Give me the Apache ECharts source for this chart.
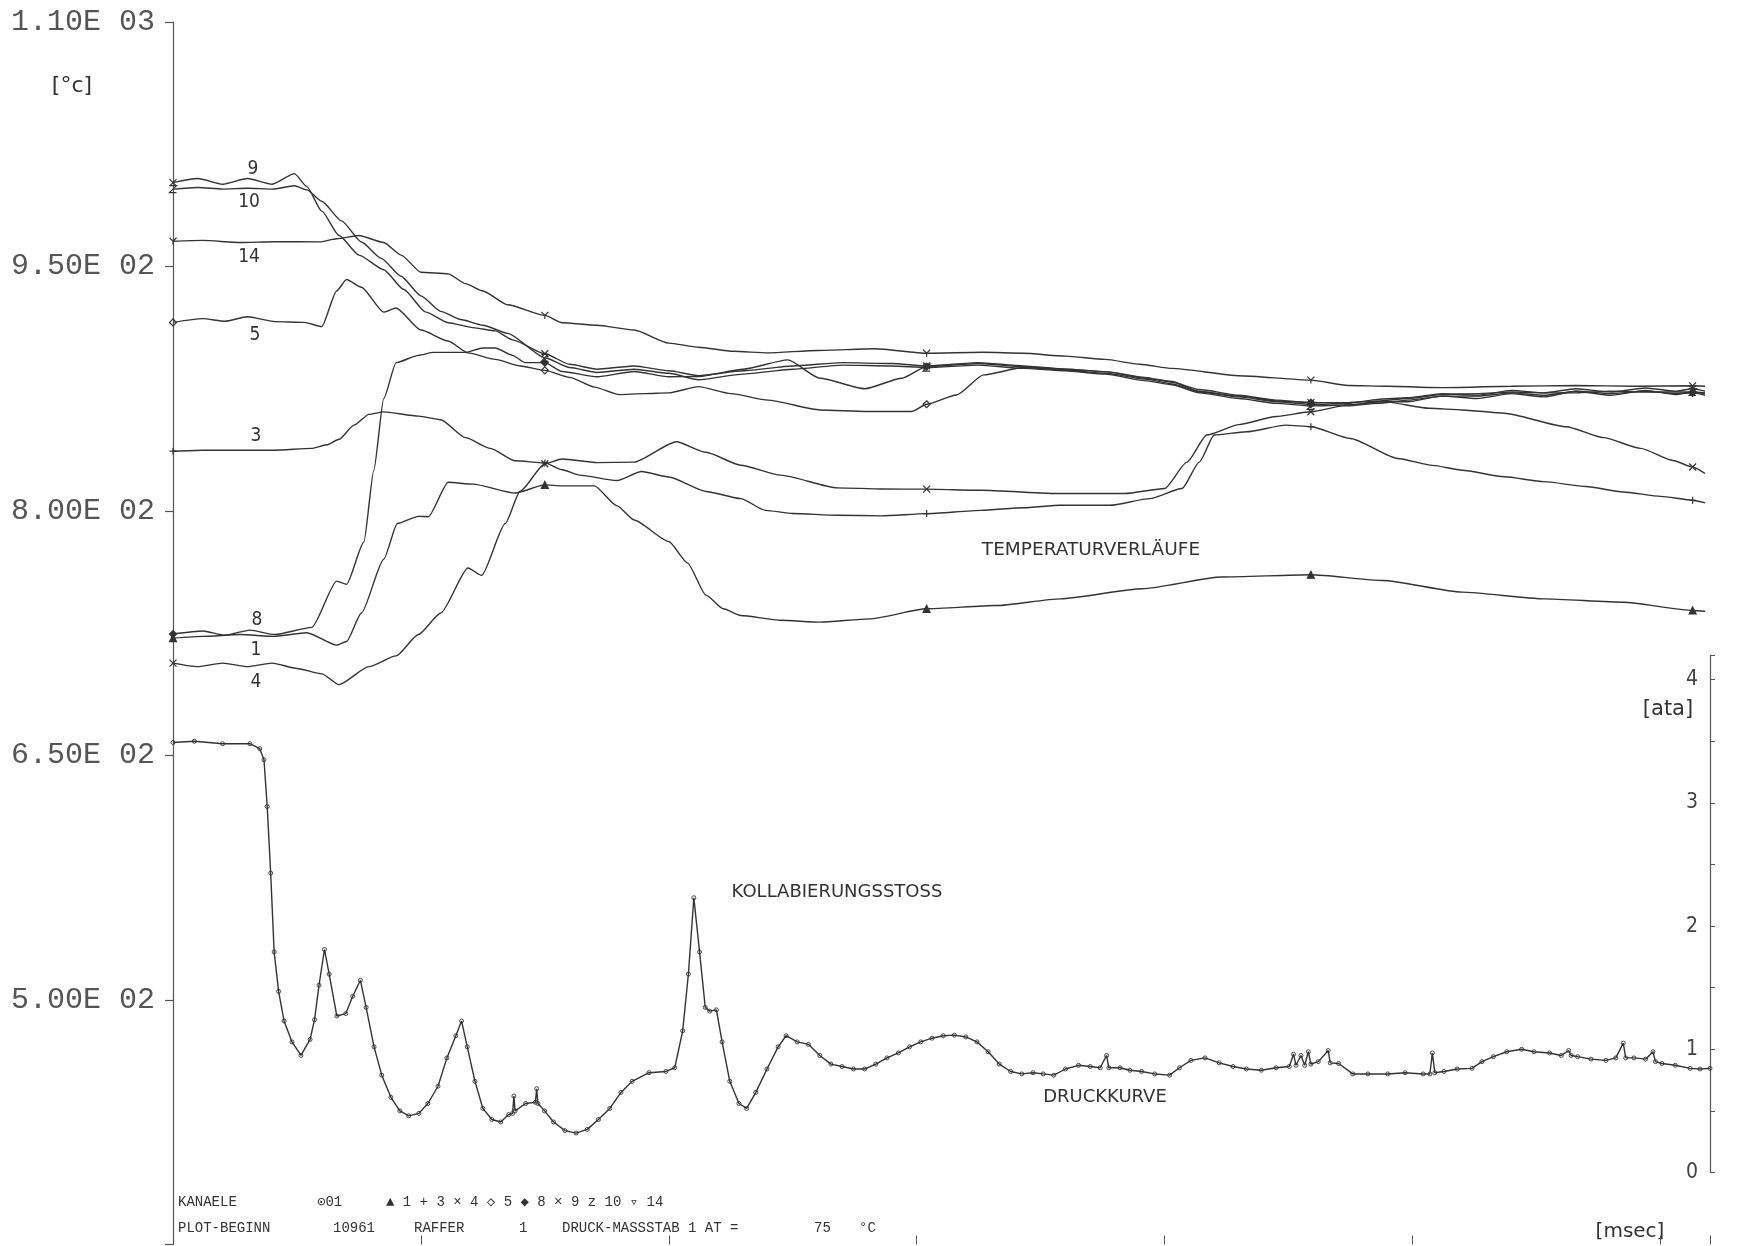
<!DOCTYPE html>
<html>
<head>
<meta charset="utf-8">
<title>Temperaturverläufe / Druckkurve</title>
<script src="https://cdn.jsdelivr.net/npm/echarts@6/dist/echarts.min.js"></script>
<style>
  html, body { margin: 0; padding: 0; background: #fff; }
  #chart { width: 1756px; height: 1246px; }
</style>
</head>
<body>
<div id="chart"></div>
<script>
// [t in msec, temperature in °C] per Kanal
const ch9 = [[0,1001.5],[10,1004],[20,1000.5],[30,1004],[40,1000.5],[49,1007],[54,999],[60,984],[67,969],[75,957],[85,948],[93,936],[102,922],[111,915.5],[121,912.5],[130,910.5],[137,905],[150,896.5],[160,890],[171,887],[186,889],[200,886],[212,883],[230,886],[250,889],[270,891],[290,890.5],[304,889],[325,891],[343,889],[360,887],[376,885.5],[392,882],[403,879],[414,874.5],[430,871],[445,868],[459,866.5],[474,866],[486,868.5],[498,869.5],[512,872],[526,871],[540,874],[553,872.5],[566,875],[580,873],[594,875.5],[606,873.5],[613,875],[618,873.5]];
const ch10 = [[0,997.5],[10,998.5],[20,997.5],[30,998],[40,997.5],[49,999.5],[54,997],[60,990],[68,978],[76,965],[84,955],[92,944],[100,932],[108,922.5],[116,917.5],[125,914],[135,909],[150,894],[160,888],[171,885],[186,887],[200,884.5],[212,880.5],[230,884],[250,887],[270,889.5],[290,889],[304,888],[325,889.5],[343,887.5],[360,886],[376,884],[392,880],[403,877.5],[414,872.5],[430,869],[445,866],[459,864.5],[474,865],[486,867],[498,867],[512,870.5],[526,869],[540,872],[553,870],[566,873.5],[580,871],[594,874],[606,871.5],[613,873],[618,872]];
const ch14 = [[0,965.5],[12,966],[27,964.7],[41,965.2],[59,965.1],[66,967],[75,969],[85,964.7],[92,957],[100,946.5],[111,945.5],[118,939.5],[125,935],[135,926.5],[150,920],[157,915.5],[171,914],[186,911],[200,903],[212,900.5],[226,898],[240,897],[260,898.5],[283,899.5],[304,896.8],[327,897.4],[343,896.8],[360,895],[376,893],[390,890],[403,887.5],[430,883],[459,880.3],[474,877],[490,876.5],[512,875.7],[540,876.5],[566,877],[590,876.5],[613,876.8],[618,876.5]];
const ch5 = [[0,915.7],[12,918],[21,916.4],[30,919.2],[41,916.2],[53,915.7],[60,913.1],[66,935],[70,942],[76,937.3],[85,922],[90,924.5],[100,911],[111,904.3],[119,897],[130,893],[140,889],[150,886.3],[160,882],[170,876],[180,871.4],[190,872],[200,872.5],[212,876.3],[225,872],[240,868],[261,862],[280,861],[298,861],[304,865.5],[316,871.2],[327,883.5],[343,888],[360,886.5],[376,884.5],[392,881],[403,878],[414,873.5],[430,870],[445,867],[459,865.5],[474,864.5],[486,866],[498,868],[512,870.5],[526,870.5],[540,872.5],[553,871],[566,873.5],[580,872],[594,873.5],[606,872],[613,872.5],[618,871]];
const ch8 = [[0,724.5],[12,726.4],[21,723.8],[31,726.9],[41,724.2],[56,728.6],[66,757],[70,755],[77,781],[81,825],[85,869],[90,891],[99,895.5],[105,897.3],[118,897.3],[125,900],[130,900],[137,895.5],[142,891],[150,891],[157,885.6],[171,882.4],[186,885.6],[200,882.4],[212,882.5],[230,887],[248,892.7],[261,881.4],[279,875],[294,881.4],[304,888.6],[325,890.5],[343,888.5],[360,887],[376,885.5],[392,881.5],[403,879.5],[414,873],[430,870.5],[445,867.5],[459,866.5],[474,866.5],[486,867.5],[498,869],[512,871.5],[526,872],[540,873],[553,872.5],[566,872.5],[580,873.5],[594,873],[606,873],[613,873],[618,872.5]];
const ch3 = [[0,836.7],[12,837.3],[27,837.3],[41,837.3],[56,838.4],[62,840.6],[67,844],[73,852.7],[79,859.3],[85,860.8],[99,858.2],[108,856],[118,845],[128,838.4],[138,830.8],[150,829.5],[157,825.3],[164,822],[179,818.7],[189,824.2],[200,820.9],[215,812],[229,807.6],[239,800.4],[250,798.5],[268,797.4],[286,797],[304,798.4],[326,800.4],[343,802],[358,803.5],[378,803.5],[394,807.6],[407,813.8],[414,830],[420,846.6],[433,848.6],[449,852.7],[459,851.7],[475,844.5],[494,832.2],[508,828],[520,825],[537,821],[553,818],[570,815],[585,811.7],[600,809],[613,806.6],[618,805]];
const ch4 = [[0,706.7],[10,704.5],[20,706.7],[30,704.5],[40,706.7],[50,703.4],[60,700.1],[67,693.5],[79,704.5],[90,711.1],[99,724.2],[108,737.4],[119,765],[124.5,760.5],[134,792.3],[140,812.1],[150,829],[157,831.9],[171,829.7],[186,830],[203,842.5],[215,836],[229,828.1],[245,822],[268,814.2],[286,813.5],[304,813.4],[326,812.7],[358,810.7],[384,810.7],[400,813.8],[409,830],[417,846.6],[430,853],[445,858],[459,860.9],[474,865],[488,867.1],[507,863],[520,862],[537,860],[562,851.7],[577,845],[592,838.4],[605,831],[613,827],[618,823]];
const ch1 = [[0,722],[12,723.1],[27,724.2],[41,723.1],[54,725.3],[66,717.7],[70,719.9],[76,737.4],[85,770.4],[90.5,792.3],[99,796.7],[103,796.5],[111,817.6],[121,816.5],[138,811],[150,816],[157,815.4],[170,815.4],[179,803.3],[186,794.5],[200,781.3],[207.5,768.2],[215,748.4],[222,740],[229,735.9],[245,733],[261,731.8],[281,733.8],[304,740],[332,742],[358,746.1],[391,752.3],[423,759.5],[459,760.9],[488,757.4],[520,750.2],[553,746.1],[585,744],[613,739],[618,738.5]];

// [t in msec, Druck in ata] (Kanal 01)
const druck = [[0,3.49],[8.6,3.5],[20,3.48],[31,3.48],[35,3.44],[36.7,3.35],[38,2.97],[39.4,2.43],[40.8,1.79],[42.6,1.47],[44.8,1.23],[48,1.06],[51.6,0.95],[55.3,1.08],[57.1,1.24],[58.9,1.52],[61.1,1.81],[63,1.61],[66.1,1.27],[69.7,1.29],[72.5,1.43],[75.6,1.56],[77.9,1.34],[81.1,1.02],[84.2,0.79],[87.9,0.61],[91.5,0.5],[95.1,0.46],[99.2,0.48],[102.8,0.56],[106.9,0.7],[110.5,0.93],[114.1,1.11],[116.4,1.23],[118.7,1.02],[121.8,0.74],[125,0.52],[128.6,0.43],[132.2,0.41],[135.4,0.47],[137,0.48],[137.5,0.62],[138,0.5],[142.2,0.56],[146.2,0.57],[146.7,0.68],[147.2,0.56],[149.9,0.5],[153.5,0.41],[158.1,0.34],[162.6,0.32],[167.1,0.35],[171.6,0.43],[176.2,0.52],[180.7,0.65],[185.2,0.74],[192,0.81],[198.8,0.82],[202.4,0.85],[205.6,1.15],[207.9,1.61],[210.1,2.23],[212.4,1.79],[214.7,1.34],[216.5,1.31],[219.2,1.32],[221.5,1.06],[224.6,0.74],[228.3,0.56],[231.4,0.52],[235.1,0.65],[239.6,0.84],[244.1,1.02],[247.3,1.11],[251.8,1.06],[256.3,1.04],[260.9,0.95],[265.4,0.88],[269.9,0.86],[274.5,0.84],[279,0.84],[283.5,0.88],[288,0.93],[292.6,0.97],[297.1,1.02],[301.6,1.06],[306.2,1.09],[310.7,1.11],[315.2,1.115],[319.8,1.1],[324.3,1.06],[328.8,0.98],[333.3,0.88],[337.9,0.82],[342.4,0.8],[346.9,0.81],[351,0.8],[355.3,0.79],[360,0.84],[365.3,0.87],[370,0.86],[374,0.85],[376.6,0.95],[377.5,0.85],[382,0.85],[386,0.83],[390.7,0.82],[396,0.8],[402,0.79],[406,0.85],[410.6,0.91],[416.3,0.93],[422,0.89],[427.6,0.86],[433,0.84],[439,0.83],[445,0.85],[450.3,0.86],[452,0.96],[453,0.87],[455,0.95],[456.5,0.87],[458,0.98],[459,0.88],[462,0.9],[466,0.99],[466.8,0.89],[470.2,0.885],[475.9,0.8],[482,0.8],[490,0.8],[497,0.81],[504.3,0.8],[507,0.8],[508,0.97],[509,0.81],[512.7,0.82],[518,0.84],[524,0.845],[528,0.9],[532.6,0.94],[538,0.98],[544,1],[549,0.98],[555.3,0.97],[560,0.95],[563,0.99],[564,0.95],[566.6,0.94],[572,0.92],[578,0.91],[582,0.93],[585,1.05],[586,0.93],[589.3,0.93],[594,0.92],[597,0.98],[598,0.9],[600.6,0.885],[606,0.87],[612,0.845],[616,0.84],[620,0.845]];

// times at which the plotter put its channel symbols
const MARK_T = [0, 150, 304, 459, 613];

const INK = '#333';
const AXIS = '#555';
const CLEAR = 'rgba(255,255,255,0)';
const NARROW = "'Liberation Sans Narrow', 'DejaVu Sans Condensed', 'DejaVu Sans', sans-serif";
const SANS = "'DejaVu Sans', 'Liberation Sans', sans-serif";
const MONO = "'Liberation Mono', 'DejaVu Sans Mono', monospace";

// plotter symbols, drawn as open strokes
const SYM = {
  plus: 'path://M5,0L5,10M0,5L10,5',
  cross: 'path://M0,0L10,10M10,0L0,10',
  zed: 'path://M0,0L10,0L0,10L10,10',
  wye: 'path://M0,0L5,5L10,0M5,5L5,10',
  rhomb: 'path://M5,0L10,5L5,10L0,5Z',
};

function fmtE(v) {
  const e = Math.floor(Math.log10(v));
  return (v / Math.pow(10, e)).toFixed(2) + 'E ' + String(e).padStart(2, '0');
}

function tempSeries(name, data, shape, filled) {
  return {
    name, type: 'line', data, xAxisIndex: 0, yAxisIndex: 0,
    smooth: 0.2, smoothMonotone: 'x',
    showAllSymbol: true,
    symbol: v => (MARK_T.includes(v[0]) ? shape : 'none'),
    symbolSize: 7,
    lineStyle: { color: INK, width: 1.4 },
    itemStyle: { color: filled ? INK : CLEAR, borderColor: INK, borderWidth: 1.2 },
    emphasis: { disabled: true },
    z: 3,
  };
}

function txt(x, y, text, size, family, align) {
  return {
    type: 'text', x, y, silent: true,
    style: { text, fontSize: size, fontFamily: family, fill: '#333',
      align: align || 'center', verticalAlign: 'middle' },
  };
}

const chart = echarts.init(document.getElementById('chart'));
chart.setOption({
  animation: false,
  backgroundColor: '#fff',
  grid: [
    { left: 173, right: 46, top: 22, bottom: 1.5 },
    { left: 173, right: 46, top: 655, bottom: 73.5 },
  ],
  xAxis: [
    { gridIndex: 0, type: 'value', min: 0, max: 620, interval: 100,
      axisLine: { show: false },
      axisTick: { show: true, inside: true, length: 9, lineStyle: { color: AXIS } },
      axisLabel: { show: false }, splitLine: { show: false } },
    { gridIndex: 1, type: 'value', min: 0, max: 620, show: false },
  ],
  yAxis: [
    { gridIndex: 0, type: 'value', min: 350, max: 1100, interval: 150, position: 'left',
      axisLine: { show: true, lineStyle: { color: AXIS, width: 1.2 } },
      axisTick: { show: true, length: 8, lineStyle: { color: AXIS, width: 1.2 } },
      axisLabel: { formatter: v => (v === 350 ? '' : fmtE(v)), fontFamily: MONO,
        fontSize: 30, color: '#555', margin: 18 },
      splitLine: { show: false } },
    { gridIndex: 1, type: 'value', min: 0, max: 4.2, interval: 0.5, position: 'right',
      axisLine: { show: true, onZero: false, lineStyle: { color: AXIS, width: 1.2 } },
      axisTick: { show: true, length: 5, lineStyle: { color: AXIS } },
      axisLabel: { inside: true, margin: 12, fontFamily: NARROW, fontSize: 21, color: '#444',
        formatter: v => (Number.isInteger(v) ? String(v) : '') },
      splitLine: { show: false } },
  ],
  series: [
    tempSeries('9', ch9, SYM.cross),
    tempSeries('10', ch10, SYM.zed),
    tempSeries('14', ch14, SYM.wye),
    tempSeries('5', ch5, SYM.rhomb),
    tempSeries('8', ch8, 'diamond', true),
    tempSeries('3', ch3, SYM.plus),
    tempSeries('4', ch4, SYM.cross),
    tempSeries('1', ch1, 'triangle', true),
    {
      name: '01', type: 'line', data: druck, xAxisIndex: 1, yAxisIndex: 1,
      showAllSymbol: true, symbol: 'circle', symbolSize: 4,
      lineStyle: { color: INK, width: 1.4 },
      itemStyle: { color: CLEAR, borderColor: INK, borderWidth: 0.9 },
      emphasis: { disabled: true }, z: 3,
    },
  ],
  graphic: [
    txt(72, 86, '[°c]', 22, SANS),
    txt(1668, 710, '[ata]', 21, SANS),
    txt(1630, 1232, '[msec]', 20, SANS),
    txt(253, 169, '9', 19, NARROW),
    txt(249, 202, '10', 19, NARROW),
    txt(249, 257, '14', 19, NARROW),
    txt(255, 335, '5', 19, NARROW),
    txt(256, 436, '3', 19, NARROW),
    txt(257, 620, '8', 19, NARROW),
    txt(256, 650, '1', 19, NARROW),
    txt(256, 682, '4', 19, NARROW),
    txt(1091, 550, 'TEMPERATURVERLÄUFE', 18.5, SANS),
    txt(837, 892, 'KOLLABIERUNGSSTOSS', 18, SANS),
    txt(1105, 1097, 'DRUCKKURVE', 18, SANS),
    txt(178, 1202, 'KANAELE', 14, MONO, 'left'),
    txt(317, 1202, '\u229901', 14, MONO, 'left'),
    txt(386, 1202, '\u25B2 1 + 3 \u00D7 4 \u25C7 5 \u25C6 8 \u00D7 9 z 10 \u25BF 14', 14, MONO, 'left'),
    txt(178, 1228, 'PLOT-BEGINN', 14, MONO, 'left'),
    txt(333, 1228, '10961', 14, MONO, 'left'),
    txt(414, 1228, 'RAFFER', 14, MONO, 'left'),
    txt(519, 1228, '1', 14, MONO, 'left'),
    txt(562, 1228, 'DRUCK-MASSSTAB', 14, MONO, 'left'),
    txt(688, 1228, '1 AT =', 14, MONO, 'left'),
    txt(814, 1228, '75', 14, MONO, 'left'),
    txt(859, 1228, '°C', 14, MONO, 'left'),
  ],
});
</script>
</body>
</html>
